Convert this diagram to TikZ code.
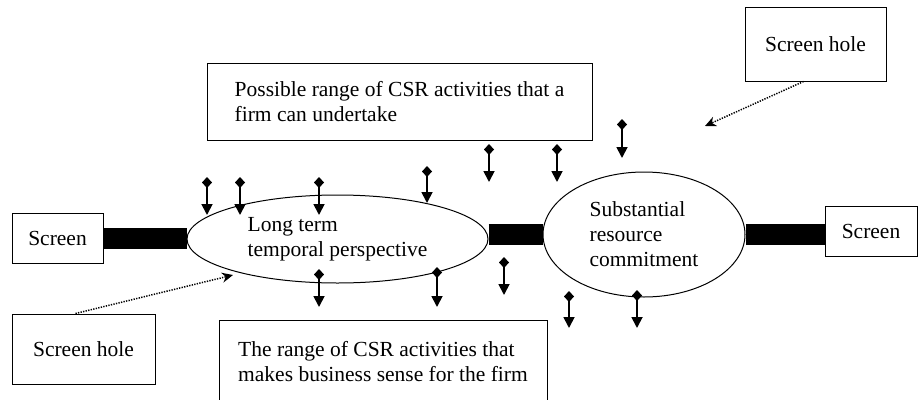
\documentclass[tikz,border=0pt]{standalone}
\usepackage{fontspec}
\setmainfont{Liberation Serif}
\usetikzlibrary{positioning,arrows.meta,shapes.geometric}

\begin{document}
\begin{tikzpicture}[
  x=1pt, y=-1pt,
  font=\fontsize{21.5}{25}\selectfont,
  box/.style={draw, line width=1pt, align=left, inner sep=2pt},
  oval/.style={draw, ellipse, line width=1pt, align=left, inner sep=2pt},
  bar/.style={line width=21pt},
  hole/.style={-{Stealth[length=11pt,width=10pt]}, line width=1.5pt, dash pattern=on 1.3pt off 1.3pt},
  push/.style={{Diamond[length=11pt,width=10pt]}-{Triangle[length=11pt,width=11pt]}, line width=1.8pt}
]
\useasboundingbox (0,0) rectangle (918,399);

% nodes
\node[box, minimum width=91, minimum height=50] (lscreen) at (57.5,238) {Screen};
\node[box, minimum width=92, minimum height=50] (rscreen) at (871,231) {Screen};
\node[box, minimum width=141, minimum height=74] (rhole) at (815.5,44) {Screen hole};
\node[box, minimum width=143, minimum height=70] (lhole) at (83.5,349) {Screen hole};
\node[box, minimum width=385, minimum height=77] (possible) at (399.5,101.5)
  {Possible range of CSR activities that a\\firm can undertake};
\node[box, minimum width=328, minimum height=84] (sense) at (383,362)
  {The range of CSR activities that\\makes business sense for the firm};
\node[oval, minimum width=301, minimum height=88] (longterm) at (337.5,239)
  {Long term\\temporal perspective};
\node[oval, minimum width=202, minimum height=125] (commit) at (644,234.5)
  {Substantial\\resource\\commitment};

% screen bars
\draw[bar] (lscreen.east) -- (lscreen.east -| longterm.west);
\draw[bar] (commit.west -| longterm.east) -- (commit.west);
\draw[bar] (commit.east) -- (commit.east -| rscreen.west);

% holes in the screen
\coordinate (rgap) at (705,126);
\coordinate (lgap) at (233,275);
\draw[hole] ([xshift=-12]rhole.south) -- (rgap);
\draw[hole] ([xshift=-8]lhole.north) -- (lgap);

% pressures
\foreach \x/\y/\t in {207/177/215, 240/177/215, 319/177/215, 427/166/203,
                      319/269/307, 437/267/307, 489/144/182, 557/144/182,
                      622/119/158, 504/257/295, 569/291/328, 637/290/328}
  \draw[push] (\x,\y) -- (\x,\t);

\end{tikzpicture}
\end{document}
